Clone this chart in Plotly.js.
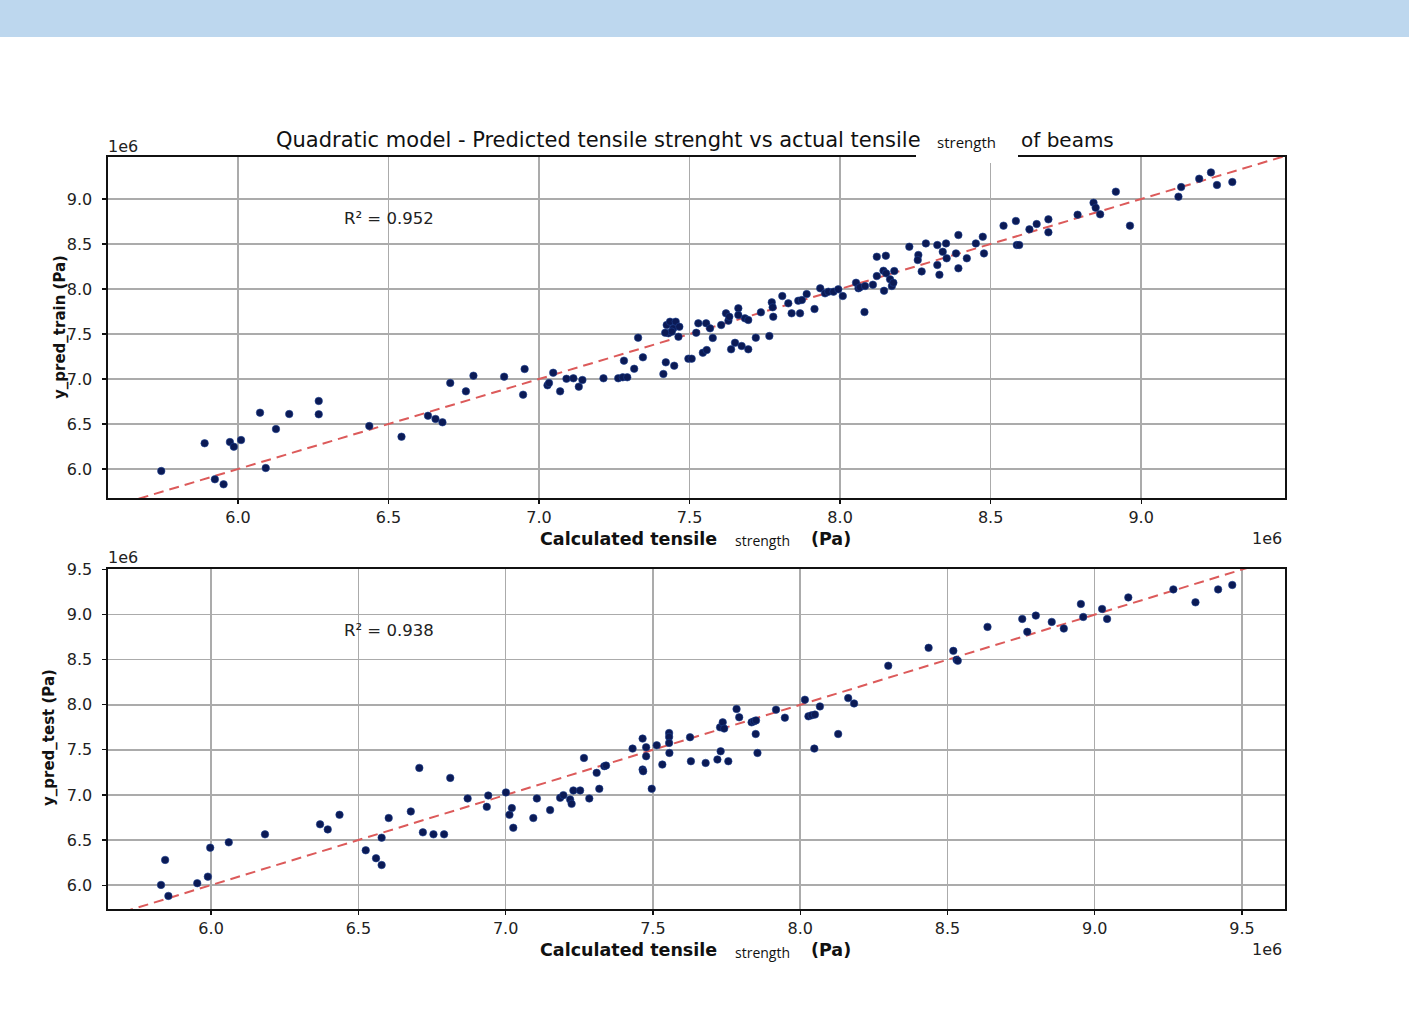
<!DOCTYPE html>
<html>
<head>
<meta charset="utf-8">
<script src="https://cdn.plot.ly/plotly-3.0.1.min.js"></script>
<style>
html,body{margin:0;padding:0;background:#fff;}
#chart{width:1409px;height:1010px;}
</style>
</head>
<body>
<div id="chart"></div>
<script>
// ---- Data (values in units of 1e6 Pa) ----
const trainActual = [5.745,5.889,5.923,5.952,5.973,5.986,6.010,6.073,6.092,6.126,6.170,6.268,6.268,6.436,6.543,6.631,6.656,6.679,6.705,6.757,
6.782,6.884,6.952,6.947,7.028,7.033,7.047,7.070,7.091,7.114,7.132,7.144,7.214,7.263,7.278,7.293,7.282,7.316,7.329,7.345,
7.413,7.421,7.449,7.424,7.435,7.446,7.454,7.466,7.463,7.430,7.441,7.419,7.496,7.507,7.522,7.529,7.555,7.568,7.577,7.544,
7.557,7.605,7.621,7.629,7.632,7.662,7.662,7.684,7.695,7.638,7.651,7.673,7.695,7.720,7.737,7.765,7.773,7.776,7.778,7.808,
7.828,7.839,7.867,7.861,7.873,7.889,7.915,7.934,7.950,7.961,7.978,7.994,8.009,8.053,8.061,8.066,8.083,8.109,8.081,8.122,
8.152,8.122,8.146,8.144,8.153,8.166,8.172,8.177,8.180,8.230,8.260,8.258,8.271,8.285,8.323,8.352,8.341,8.323,8.330,8.354,
8.385,8.393,8.393,8.421,8.451,8.474,8.478,8.543,8.584,8.587,8.595,8.629,8.653,8.692,8.692,8.789,8.842,8.849,8.864,8.916,
8.963,9.124,9.133,9.193,9.232,9.252,9.303];
const trainPred = [5.978,6.286,5.886,5.830,6.300,6.248,6.322,6.626,6.011,6.444,6.611,6.756,6.608,6.478,6.359,6.592,6.556,6.519,6.956,6.863,
7.037,7.026,7.111,6.826,6.930,6.956,7.070,6.863,7.003,7.008,6.915,6.989,7.008,7.008,7.019,7.019,7.204,7.114,7.459,7.241,
7.056,7.185,7.148,7.600,7.637,7.563,7.637,7.581,7.470,7.508,7.526,7.514,7.226,7.226,7.514,7.619,7.619,7.563,7.456,7.292,
7.322,7.600,7.730,7.648,7.692,7.786,7.711,7.674,7.656,7.330,7.403,7.367,7.330,7.459,7.741,7.478,7.852,7.797,7.692,7.922,
7.841,7.730,7.730,7.870,7.878,7.944,7.778,8.008,7.952,7.970,7.970,7.997,7.922,8.070,8.008,8.019,8.033,8.048,7.744,8.359,
8.370,8.144,7.981,8.203,8.174,8.108,8.033,8.070,8.200,8.470,8.378,8.322,8.196,8.507,8.489,8.507,8.414,8.267,8.159,8.341,
8.396,8.600,8.230,8.341,8.507,8.581,8.396,8.704,8.756,8.489,8.489,8.663,8.722,8.774,8.630,8.826,8.959,8.903,8.830,9.082,
8.704,9.026,9.133,9.226,9.296,9.156,9.189];

const testActual = [5.830,5.844,5.855,5.953,5.989,5.997,6.060,6.183,6.370,6.396,6.436,6.525,6.560,6.579,6.579,6.603,6.678,6.707,6.719,6.755,
6.791,6.812,6.871,6.936,6.941,7.001,7.013,7.021,7.026,7.094,7.106,7.151,7.185,7.196,7.219,7.224,7.230,7.253,7.266,7.284,
7.309,7.318,7.335,7.341,7.431,7.465,7.477,7.477,7.465,7.467,7.496,7.513,7.532,7.555,7.555,7.555,7.556,7.626,7.629,7.679,
7.719,7.730,7.728,7.737,7.742,7.756,7.784,7.793,7.835,7.843,7.850,7.849,7.855,7.918,7.948,8.016,8.028,8.039,8.050,8.067,
8.048,8.129,8.163,8.183,8.299,8.436,8.520,8.531,8.535,8.636,8.754,8.771,8.800,8.854,8.895,8.953,8.961,9.025,9.042,9.114,
9.267,9.342,9.419,9.467];
const testPred = [6.002,6.279,5.880,6.021,6.094,6.415,6.474,6.563,6.674,6.618,6.780,6.386,6.298,6.223,6.526,6.744,6.817,7.300,6.585,6.563,
6.563,7.189,6.961,6.868,6.994,7.028,6.780,6.854,6.636,6.744,6.961,6.832,6.968,6.998,6.950,6.901,7.050,7.050,7.410,6.961,
7.245,7.068,7.319,7.326,7.514,7.625,7.529,7.429,7.282,7.263,7.068,7.551,7.337,7.687,7.644,7.577,7.466,7.640,7.374,7.355,
7.393,7.484,7.750,7.805,7.736,7.374,7.953,7.861,7.805,7.816,7.827,7.676,7.466,7.946,7.857,8.056,7.872,7.883,7.891,7.982,
7.514,7.676,8.074,8.015,8.433,8.632,8.598,8.499,8.488,8.864,8.952,8.809,8.989,8.919,8.845,9.118,8.974,9.063,8.952,9.191,
9.280,9.136,9.280,9.329];

const trainTicksX = [6.0,6.5,7.0,7.5,8.0,8.5,9.0];
const trainTicksY = [6.0,6.5,7.0,7.5,8.0,8.5,9.0];
const testTicksX = [6.0,6.5,7.0,7.5,8.0,8.5,9.0,9.5];
const testTicksY = [6.0,6.5,7.0,7.5,8.0,8.5,9.0,9.5];

const r2Train = "R² = 0.952";
const r2Test = "R² = 0.938";

// ---- Layout helpers (pixel -> paper) ----
const W = 1409, H = 1010;
const px = x => x / W;
const py = y => 1 - y / H;

const trainXRange = [5.568, 9.478];
const trainYRange = [5.678, 9.467];
const testXRange = [5.650, 9.646];
const testYRange = [5.735, 9.506];

const markerStyle = {size: 7.5, color: '#0b1a55', line: {width: 0.6, color: '#1d3f8f'}};
const lineStyle = {color: '#dc5a5a', width: 2, dash: '10px,6px'};

const traces = [
  {x: trainXRange, y: trainXRange, xaxis: 'x', yaxis: 'y', mode: 'lines', line: lineStyle, hoverinfo: 'skip'},
  {x: trainActual, y: trainPred, xaxis: 'x', yaxis: 'y', mode: 'markers', marker: markerStyle, cliponaxis: true},
  {x: testXRange, y: testXRange, xaxis: 'x2', yaxis: 'y2', mode: 'lines', line: lineStyle, hoverinfo: 'skip'},
  {x: testActual, y: testPred, xaxis: 'x2', yaxis: 'y2', mode: 'markers', marker: markerStyle, cliponaxis: true}
];

const tickFont = {family: 'DejaVu Sans', size: 16, color: '#222'};
function axisBase() {
  return {
    showline: true, linecolor: '#111', linewidth: 1.6, mirror: true,
    ticks: 'outside', ticklen: 4, tickwidth: 1.2, tickcolor: '#111',
    showgrid: true, gridcolor: '#ababab', gridwidth: 1.5,
    zeroline: false, tickfont: tickFont, tickformat: '.1f', tickmode: 'array'
  };
}

const xaxis = Object.assign(axisBase(), {domain: [px(108), px(1285)], range: trainXRange, tickvals: trainTicksX, anchor: 'y', ticklabelstandoff: 0});
const yaxis = Object.assign(axisBase(), {domain: [py(498), py(157)], range: trainYRange, tickvals: trainTicksY, anchor: 'x', ticklabelstandoff: 7});
const xaxis2 = Object.assign(axisBase(), {domain: [px(108), px(1285)], range: testXRange, tickvals: testTicksX, anchor: 'y2', ticklabelstandoff: 0});
const yaxis2 = Object.assign(axisBase(), {domain: [py(909), py(569)], range: testYRange, tickvals: testTicksY, anchor: 'x2', ticklabelstandoff: 7});

const boldFont = {family: 'DejaVu Sans', size: 17.5, color: '#111'};
const smallFont = {family: 'Open Sans', size: 14, color: '#111'};
const plainFont = {family: 'DejaVu Sans', size: 16.5, color: '#222'};
const offFont = {family: 'DejaVu Sans', size: 16, color: '#222'};
const yTitleFont = {family: 'DejaVu Sans', size: 15, color: '#111'};

function ann(text, x, y, font, extra) {
  return Object.assign({text: text, x: px(x), y: py(y), xref: 'paper', yref: 'paper',
    showarrow: false, font: font, xanchor: 'center', yanchor: 'middle'}, extra || {});
}

const annotations = [
  // title continuation
  ann('strength', 966, 142, {family: 'Open Sans', size: 15, color: '#111'}),
  ann('of beams', 1019, 140, {family: 'DejaVu Sans', size: 20, color: '#111'}, {xanchor: 'left'}),
  // offset labels
  ann('1e6', 123, 146, offFont),
  ann('1e6', 1267, 538, offFont),
  ann('1e6', 123, 557, offFont),
  ann('1e6', 1267, 949, offFont),
  // R2
  ann(r2Train, 389, 219, plainFont),
  ann(r2Test, 389, 630, plainFont),
  // x titles
  ann('<b>Calculated tensile</b>', 628, 539, boldFont),
  ann('strength', 763, 540, smallFont),
  ann('<b>(Pa)</b>', 831, 539, boldFont),
  ann('<b>Calculated tensile</b>', 628, 950, boldFont),
  ann('strength', 763, 952, smallFont),
  ann('<b>(Pa)</b>', 831, 950, boldFont),
  // y titles
  ann('<b>y_pred_train (Pa)</b>', 60, 327, yTitleFont, {textangle: -90}),
  ann('<b>y_pred_test (Pa)</b>', 49, 738, yTitleFont, {textangle: -90})
];

const shapes = [
  {type: 'rect', xref: 'paper', yref: 'paper', x0: 0, x1: 1, y0: py(37), y1: 1, fillcolor: '#bdd7ee', line: {width: 0}, layer: 'above'},
  {type: 'rect', xref: 'paper', yref: 'paper', x0: px(916), x1: px(1018), y0: py(163), y1: py(128), fillcolor: '#ffffff', line: {width: 0}, layer: 'above'}
];

const layout = {
  width: W, height: H,
  margin: {l: 0, r: 0, t: 0, b: 0},
  paper_bgcolor: '#ffffff', plot_bgcolor: '#ffffff',
  showlegend: false,
  title: {text: 'Quadratic model - Predicted tensile strenght vs actual tensile', x: px(276), xanchor: 'left', xref: 'paper',
          y: py(140), yanchor: 'middle', yref: 'paper', font: {family: 'DejaVu Sans', size: 21, color: '#111'}},
  xaxis: xaxis, yaxis: yaxis, xaxis2: xaxis2, yaxis2: yaxis2,
  annotations: annotations, shapes: shapes
};

Plotly.newPlot('chart', traces, layout, {staticPlot: true, displayModeBar: false});
</script>
</body>
</html>
